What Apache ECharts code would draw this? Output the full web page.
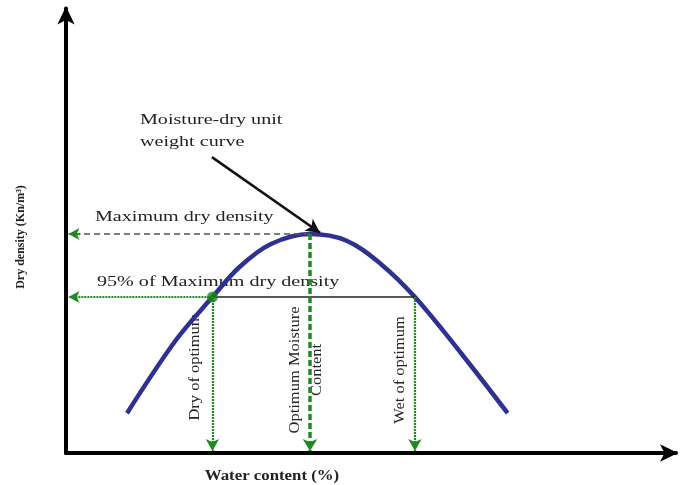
<!DOCTYPE html>
<html>
<head>
<meta charset="utf-8">
<script src="https://cdn.jsdelivr.net/npm/echarts@6/dist/echarts.min.js"></script>
<style>
  html, body { margin: 0; padding: 0; background: #ffffff; }
  #chart { width: 682px; height: 485px; }
</style>
</head>
<body>
<div id="chart"></div>
<script>
// Compaction curve: dry density versus water content
const waterContent = [6.5, 8.5, 10.0, 11.1, 12.4, 14.0, 15.5, 16.9, 18.3, 20.2, 22.1];
const dryDensity   = [16.3, 17.4, 18.05, 18.5, 18.85, 19.0, 18.9, 18.55, 18.05, 17.2, 16.3];

// Key values on the curve
const maxDryDensity = 19.0;      // peak of the curve
const dryDensity95 = 18.05;      // 95% of maximum dry density (schematic)
const optimumMoisture = 14.0;    // water content at the peak
const dryOfOptimum = 10.0;       // dry side at 95%
const wetOfOptimum = 18.3;       // wet side at 95%

// Axis extents
const xRange = [4, 29];
const yRange = [15.7, 22.4];

// Pointer for the curve annotation (from text to the peak)
const pointerStart = [9.98, 20.16];
const pointerEnd = [14.41, 19.02];

const GREEN = '#1e8c1e';
const TEXT = '#222';
const SERIF = '"Liberation Serif", "Times New Roman", serif';

const curveData = waterContent.map((w, i) => [w, dryDensity[i]]);

const chart = echarts.init(document.getElementById('chart'), null, { renderer: 'canvas' });

const hiddenAxisBits = {
  axisTick: { show: false },
  axisLabel: { show: false },
  splitLine: { show: false }
};

// horizontal caption, stretched a little in width
function caption(text, x, y) {
  return {
    type: 'text', x: x, y: y, scaleX: 1.34,
    style: { text: text, font: '15px ' + SERIF, fill: TEXT, align: 'left', verticalAlign: 'middle' }
  };
}

// caption written upwards along a drop line
function verticalCaption(text, x, y, extra) {
  return {
    type: 'text', x: x, y: y, rotation: Math.PI / 2, scaleX: 1.1,
    style: Object.assign({ text: text, font: '15px ' + SERIF, fill: TEXT, align: 'center', verticalAlign: 'middle' }, extra || {})
  };
}

chart.setOption({
  animation: false,
  backgroundColor: '#ffffff',
  grid: { left: 66, right: 6, top: 8.5, bottom: 32 },
  xAxis: Object.assign({
    type: 'value', min: xRange[0], max: xRange[1],
    axisLine: {
      show: true, onZero: false,
      symbol: ['none', 'arrow'], symbolSize: [13, 18], symbolOffset: [0, 2],
      lineStyle: { color: '#000', width: 4 }
    }
  }, hiddenAxisBits),
  yAxis: Object.assign({
    type: 'value', min: yRange[0], max: yRange[1],
    axisLine: {
      show: true, onZero: false,
      symbol: ['none', 'arrow'], symbolSize: [13, 18], symbolOffset: [0, 2],
      lineStyle: { color: '#000', width: 4 }
    }
  }, hiddenAxisBits),
  series: [
    {
      // guide lines to the axes
      type: 'line',
      data: [],
      silent: true,
      markLine: {
        silent: true,
        symbol: ['none', 'none'],
        label: { show: false },
        data: [
          // maximum dry density, dashed to the y axis
          [
            { coord: [optimumMoisture, maxDryDensity], lineStyle: { color: '#555', width: 1.5, type: [6, 4] } },
            { coord: [xRange[0] + 0.35, maxDryDensity] }
          ],
          [
            { coord: [xRange[0] + 0.6, maxDryDensity], symbol: 'none', lineStyle: { color: GREEN, width: 1.5, type: 'solid' } },
            { coord: [xRange[0] + 0.1, maxDryDensity], symbol: 'arrow', symbolSize: [9, 11] }
          ],
          // 95% line: green to the y axis, black across the curve
          [
            { coord: [dryOfOptimum, dryDensity95], lineStyle: { color: GREEN, width: 2.2, type: [2, 1] } },
            { coord: [xRange[0] + 0.1, dryDensity95], symbol: 'arrow', symbolSize: [9, 11] }
          ],
          [
            { coord: [dryOfOptimum, dryDensity95], lineStyle: { color: '#222', width: 1.5, type: 'solid' } },
            { coord: [wetOfOptimum, dryDensity95] }
          ],
          // drops to the water content axis
          [
            { coord: [dryOfOptimum, dryDensity95], lineStyle: { color: GREEN, width: 2.2, type: [2, 1] } },
            { coord: [dryOfOptimum, yRange[0] + 0.03], symbol: 'arrow', symbolSize: [10, 12] }
          ],
          [
            { coord: [optimumMoisture, maxDryDensity], lineStyle: { color: GREEN, width: 3.5, type: [6, 3] } },
            { coord: [optimumMoisture, yRange[0] + 0.03], symbol: 'arrow', symbolSize: [11, 12] }
          ],
          [
            { coord: [wetOfOptimum, dryDensity95], lineStyle: { color: GREEN, width: 2.2, type: [2, 1] } },
            { coord: [wetOfOptimum, yRange[0] + 0.03], symbol: 'arrow', symbolSize: [10, 12] }
          ]
        ]
      },
      z: 2
    },
    {
      name: 'Moisture-dry unit weight curve',
      type: 'line',
      data: curveData,
      smooth: 0.35,
      symbol: 'none',
      lineStyle: { color: '#2f3192', width: 4.5 },
      z: 4
    },
    {
      // point at 95% on the dry side
      type: 'scatter',
      data: [[dryOfOptimum, dryDensity95]],
      symbol: 'circle',
      symbolSize: 11,
      itemStyle: { color: '#168a16' },
      z: 5
    },
    {
      // pointer from the caption to the curve
      type: 'line',
      data: [],
      markLine: {
        silent: true,
        symbol: ['none', 'arrow'],
        symbolSize: [11, 14],
        label: { show: false },
        lineStyle: { color: '#111', width: 2.5, type: 'solid' },
        data: [[{ coord: pointerStart }, { coord: pointerEnd }]]
      },
      z: 6
    }
  ],
  graphic: [
    caption('Moisture-dry unit', 140, 120),
    caption('weight curve', 140, 142),
    caption('Maximum dry density', 95, 217),
    caption('95% of Maximum dry density', 97, 282),
    verticalCaption('Dry of optimum', 195, 367),
    verticalCaption('Optimum Moisture\nContent', 306, 370, { lineHeight: 22 }),
    verticalCaption('Wet of optimum', 400, 370),
    {
      type: 'text', x: 272, y: 476, scaleX: 1.2,
      style: { text: 'Water content (%)', font: 'bold 14px ' + SERIF, fill: TEXT, align: 'center', verticalAlign: 'middle' }
    },
    {
      type: 'text', x: 21, y: 237, rotation: Math.PI / 2,
      style: { text: 'Dry density (Kn/m³)', font: 'bold 12px ' + SERIF, fill: TEXT, align: 'center', verticalAlign: 'middle' }
    }
  ]
});
</script>
</body>
</html>
